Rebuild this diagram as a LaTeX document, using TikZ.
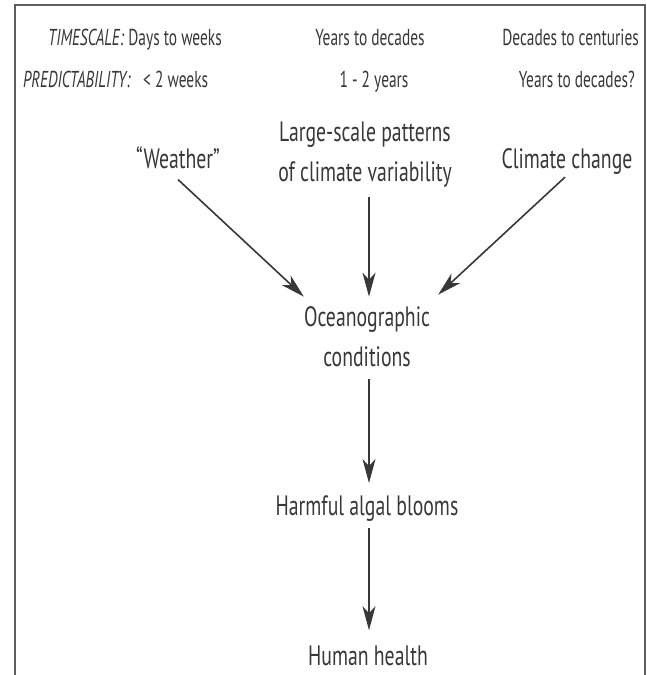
\documentclass[tikz,border=0pt]{standalone}
\usepackage{fontspec}
\setmainfont[FakeStretch=0.705]{PT Sans}
\newfontfamily\kopffont[FakeStretch=0.67]{PT Sans}
\usetikzlibrary{arrows.meta}
\definecolor{tinte}{HTML}{383838}
\definecolor{rahmen}{HTML}{5e5e5e}
\tikzset{
  kopf/.style={font=\kopffont\fontsize{23}{25}\selectfont, text=tinte, inner sep=0pt, anchor=base},
  label/.style={font=\fontsize{28}{40}\selectfont, text=tinte, align=center, inner sep=0pt},
  pfeil/.style={line width=1.6pt, draw=tinte, -{Stealth[length=24pt, width=13pt, inset=7pt]}}
}

\begin{document}
\begin{tikzpicture}[x=1pt, y=-1pt]
\useasboundingbox (0,0) rectangle (647,675);
\fill[white] (0,0) rectangle (647,675);

% Frame
\draw[rahmen, line width=1.5pt] (15,675) -- (15,5) -- (645,5) -- (645,675);

% Timescale row
\node[kopf, anchor=base east] (tsa) at (222,45) {\textit{TIMESCALE:} Days to weeks};
\node[kopf] (tsb) at (370,45) {Years to decades};
\node[kopf, anchor=base east] (tsc) at (639,45) {Decades to centuries};

% Predictability row
\node[kopf, anchor=base west] (prname) at (23,87) {\textit{PREDICTABILITY:}};
\node[kopf, anchor=base west] (pra) at (143,87) {< 2 weeks};
\node[kopf] (prb) at (374,87) {1 - 2 years};
\node[kopf, anchor=base east] (prc) at (635,87) {Years to decades?};

% Drivers
\node[label, anchor=base] (weather) at (178,168) {``Weather''};
\node[label] (patterns) at (365,155) {Large-scale patterns\\of climate variability};
\node[label, anchor=base] (change) at (567,168) {Climate change};

% Chain
\node[label] (ocean) at (367,337) {Oceanographic\\conditions};
\node[label, anchor=base] (blooms) at (367,515) {Harmful algal blooms};
\node[label, anchor=base] (health) at (368,665) {Human health};

% Arrows
\draw[pfeil] ([yshift=-11pt]weather.south) -- ([yshift=10pt]ocean.north west);
\draw[pfeil] ([xshift=4pt,yshift=-9pt]patterns.south) -- ([xshift=2pt,yshift=10pt]ocean.north);
\draw[pfeil] ([xshift=-2pt,yshift=-3pt]change.south) -- ([xshift=8pt,yshift=12pt]ocean.north east);
\draw[pfeil] ([xshift=2pt,yshift=-12pt]ocean.south) -- ([xshift=2pt,yshift=12pt]blooms.north);
\draw[pfeil] ([xshift=2pt,yshift=-7pt]blooms.south) -- ([xshift=1pt,yshift=15pt]health.north);
\end{tikzpicture}
\end{document}
